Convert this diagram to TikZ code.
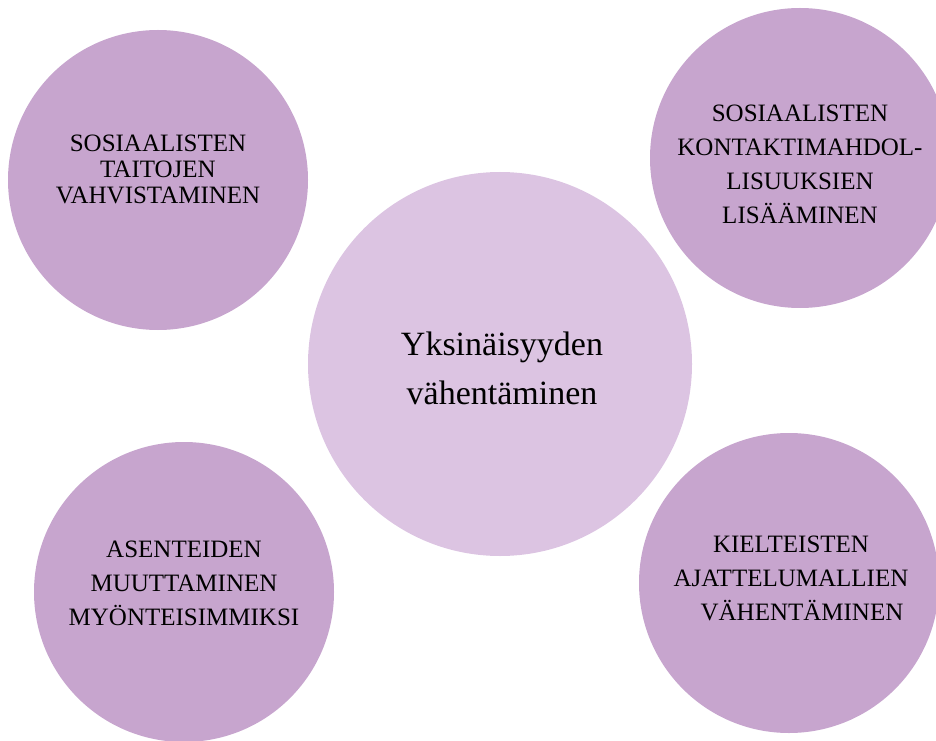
\documentclass[tikz,border=0pt]{standalone}
\usepackage{fontspec}
\setmainfont{Liberation Serif}
\definecolor{bubblepurple}{RGB}{199,165,206}
\definecolor{corepurple}{RGB}{220,196,226}
\begin{document}
\begin{tikzpicture}[x=1pt,y=1pt,
    bubble/.style={circle, fill=bubblepurple, inner sep=0pt, minimum size=300pt},
    core/.style={circle, fill=corepurple, inner sep=0pt, minimum size=384pt},
    caps/.style={align=center, inner sep=0pt, font=\fontsize{25}{34}\selectfont},
    tightcaps/.style={caps, font=\fontsize{25}{26}\selectfont},
    coretext/.style={align=center, inner sep=0pt, font=\fontsize{34}{49}\selectfont}]
    % page frame
    \useasboundingbox (0,0) rectangle (936,740);
    \clip (0,0) rectangle (936,740);
    % outer bubbles and the central one
    \node[bubble] (skills) at (158,560) {};
    \node[bubble] (contacts) at (800,582) {};
    \node[core] (centre) at (500,376) {};
    \node[bubble] (attitudes) at (184,148) {};
    \node[bubble] (thoughts) at (789,157) {};
    % texts
    \node[tightcaps] (skillstext) at ([yshift=11]skills.center) {SOSIAALISTEN\\TAITOJEN\\VAHVISTAMINEN};
    \node[caps] (contactstext) at ([yshift=-6]contacts.center) {SOSIAALISTEN\\KONTAKTIMAHDOL-\\LISUUKSIEN\\LISÄÄMINEN};
    \node[coretext] (centretext) at ([xshift=2,yshift=-4]centre.center) {Yksinäisyyden\\vähentäminen};
    \node[caps] (attitudestext) at ([yshift=9]attitudes.center) {ASENTEIDEN\\MUUTTAMINEN\\MYÖNTEISIMMIKSI};
    \node[caps] (thoughtstext) at ([xshift=2,yshift=5]thoughts.center) {KIELTEISTEN\\AJATTELUMALLIEN\\\hspace*{22pt}VÄHENTÄMINEN};
\end{tikzpicture}
\end{document}
